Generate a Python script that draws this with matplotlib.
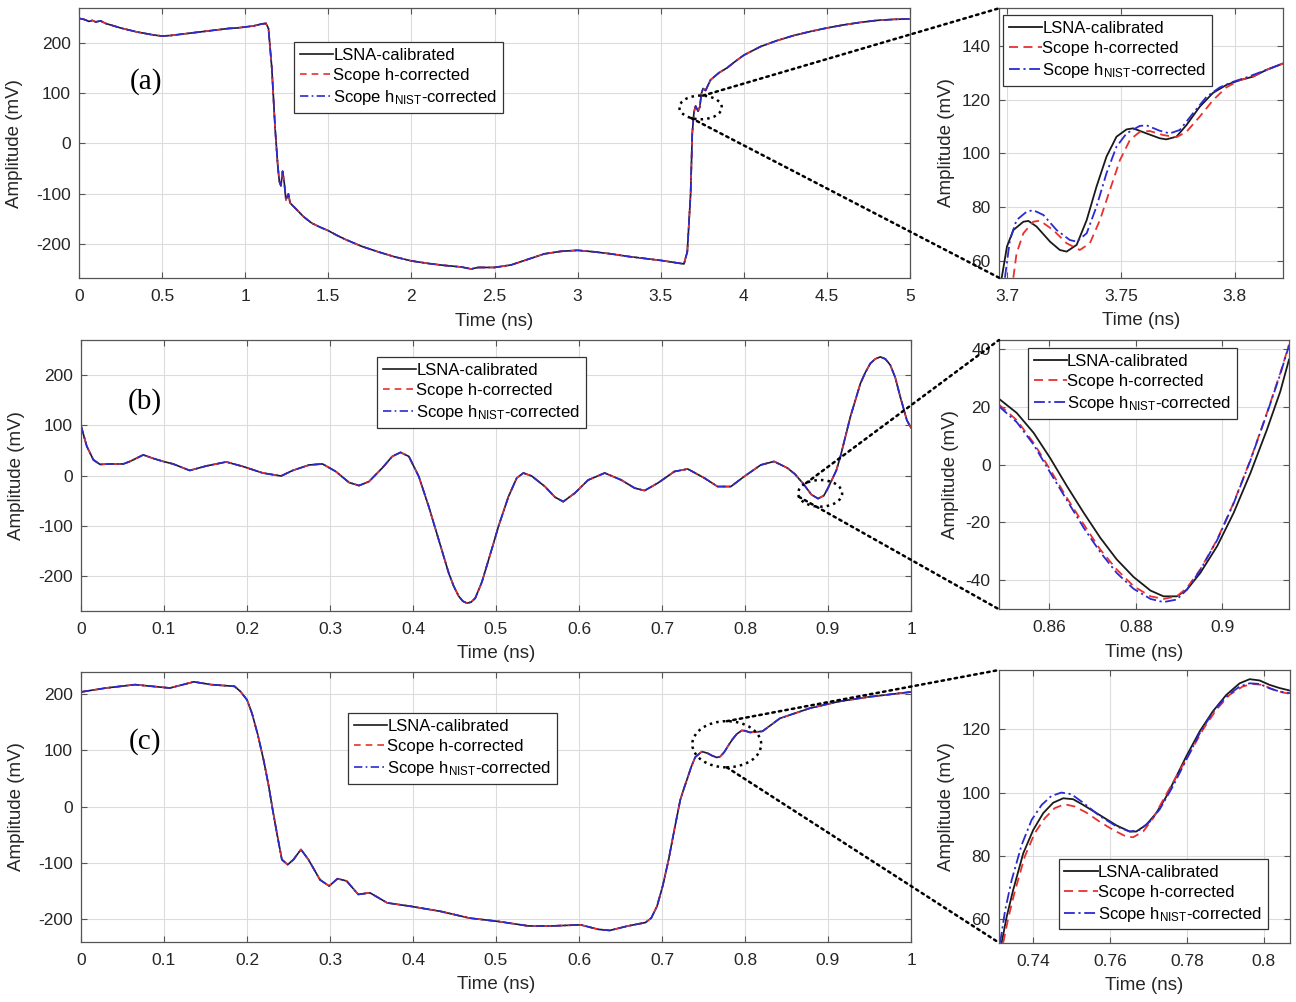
import numpy as np
import matplotlib
matplotlib.use("Agg")
import matplotlib.pyplot as plt
from matplotlib.patches import Ellipse, ConnectionPatch
from matplotlib.ticker import FormatStrFormatter

plt.rcParams['font.family'] = ['Liberation Sans', 'DejaVu Sans']
plt.rcParams['mathtext.default'] = 'regular'
plt.rcParams['axes.unicode_minus'] = False

# ---- panel (a): full waveform (the three curves overlap at this scale)
t_a = [0, 0.03, 0.06, 0.08, 0.1, 0.13, 0.16, 0.2, 0.25, 0.3, 0.35, 0.4, 0.45, 0.5,
       0.55, 0.6, 0.65, 0.7, 0.75, 0.8, 0.85, 0.9, 0.95, 1.0, 1.05, 1.1, 1.125, 1.14,
       1.16, 1.18, 1.195, 1.205, 1.215, 1.225, 1.235, 1.245, 1.26, 1.27, 1.3, 1.35,
       1.4, 1.45, 1.5, 1.55, 1.6, 1.7, 1.8, 1.9, 2.0, 2.1, 2.2, 2.3, 2.36, 2.4, 2.5,
       2.6, 2.7, 2.8, 2.9, 3.0, 3.1, 3.2, 3.3, 3.4, 3.5, 3.6, 3.64, 3.66, 3.68, 3.69,
       3.7, 3.71, 3.725, 3.735, 3.745, 3.755, 3.77, 3.8, 3.85, 3.9, 3.95, 4.0, 4.1,
       4.2, 4.3, 4.4, 4.5, 4.6, 4.7, 4.8, 4.9, 5.0]
lsna_a = [248, 246, 242, 244, 241, 243, 238, 234, 229, 225, 221, 218, 215, 213,
          214, 216, 218, 220, 222, 224, 226, 228, 229, 231, 233, 237, 238, 228,
          150, 30, -40, -75, -84, -55, -78, -112, -100, -118, -128, -145,
          -158, -166, -173, -182, -190, -204, -215, -225, -233, -238, -242, -245, -249, -246, -246,
          -241, -230, -219, -214, -212, -215, -219, -224, -228, -232, -237, -239, -215, -100, 20,
          62, 74, 64, 72, 99, 109, 105, 126, 140, 150, 163, 175, 192,
          204, 214, 222, 229, 235, 240, 244, 246, 247]
hcorr_a = list(lsna_a)
nist_a = list(lsna_a)

# ---- panel (b)
t_b = [0, 0.007, 0.015, 0.023, 0.035, 0.051, 0.059, 0.075, 0.087, 0.099, 0.111, 0.131,
       0.151, 0.175, 0.195, 0.219, 0.241, 0.255, 0.275, 0.291, 0.307, 0.323, 0.335, 0.347,
       0.363, 0.375, 0.385, 0.395, 0.407, 0.419, 0.431, 0.443, 0.449, 0.455, 0.46, 0.465,
       0.47, 0.475, 0.483, 0.491, 0.497,
       0.503, 0.515, 0.525, 0.533, 0.543, 0.559, 0.571, 0.581, 0.595, 0.611, 0.631, 0.651,
       0.667, 0.679, 0.695, 0.715, 0.731, 0.751, 0.767, 0.783, 0.799, 0.819, 0.835, 0.851,
       0.86, 0.87, 0.88, 0.888, 0.895, 0.9, 0.91, 0.915, 0.927, 0.939, 0.945, 0.951, 0.957,
       0.963, 0.969, 0.975, 0.981, 0.987, 0.995, 1.0]
lsna_b = [99, 58, 31, 22, 23, 23, 28, 41, 34, 28, 23, 10,
          19, 27, 18, 5, -1, 10, 21, 23, 8, -14, -20, -12,
          15, 38, 46, 38, -2, -62, -128, -194, -220, -240, -250, -254,
          -252, -244, -212, -168, -135,
          -101, -42, -5, 5, -1, -22, -43, -52, -35, -9, 5, -9,
          -25, -30, -15, 8, 13, -5, -22, -22, -2, 21, 28, 15,
          3, -16, -38, -46, -40, -25, 10, 38, 117, 183, 205, 223, 232,
          236, 232, 220, 195, 157, 110, 95]
hcorr_b = list(lsna_b)
nist_b = list(lsna_b)

# ---- panel (c)
t_c = [0, 0.03, 0.065, 0.1, 0.107, 0.136, 0.157, 0.185, 0.192, 0.2, 0.206, 0.213, 0.22,
       0.226, 0.231, 0.237,
       0.242, 0.249, 0.256, 0.265, 0.274, 0.288, 0.299, 0.309, 0.32, 0.334, 0.348, 0.369,
       0.397, 0.433, 0.468, 0.503, 0.539, 0.567, 0.602, 0.623, 0.637, 0.659, 0.68, 0.687,
       0.694, 0.701, 0.708, 0.715, 0.722, 0.727, 0.731, 0.735, 0.74, 0.748, 0.755, 0.76,
       0.766, 0.77, 0.775, 0.78,
       0.785, 0.79, 0.796, 0.8, 0.806, 0.821, 0.842, 0.878, 0.913, 0.948, 1.0]
lsna_c = [204, 211, 217, 212, 211, 222, 217, 214, 205, 190, 166, 128, 83,
          38, -6, -55,
          -94, -103, -94, -76, -94, -130, -141, -128, -132, -156, -153, -171,
          -177, -186, -198, -204, -212, -212, -210, -218, -220, -212, -206, -198,
          -177, -140, -94, -40, 12, 35, 52, 70, 88, 98, 95, 91,
          87.5, 89, 97, 109,
          120, 129, 135.5, 135, 132, 134, 157, 175, 187, 195, 204]
hcorr_c = list(lsna_c)
nist_c = list(lsna_c)

# ---- zoom (a): 3.70 - 3.82 ns
za_t_lsna = [3.6977, 3.7, 3.7028, 3.7072, 3.7094, 3.713, 3.7189, 3.7232, 3.7262, 3.7306,
             3.735, 3.7393, 3.7437, 3.7481, 3.7525, 3.7554, 3.7613, 3.7671, 3.77, 3.7744,
             3.7788, 3.7846, 3.7905, 3.7963, 3.8022, 3.808, 3.8139, 3.8212]
za_v_lsna = [53.8, 65.4, 71.5, 74.6, 74.9, 72.8, 67.2, 64.1, 63.5, 66.0,
             75.2, 87.6, 98.8, 106.2, 108.9, 109.3, 107.4, 105.6, 105.2, 106.2,
             110.5, 117.3, 122.5, 125.4, 127.2, 128.5, 131.0, 133.4]
za_t_h = [3.7028, 3.7042, 3.7072, 3.7115, 3.7145, 3.7203, 3.7262, 3.7320, 3.7364, 3.7408,
          3.7452, 3.7496, 3.754, 3.7583, 3.7627, 3.7686, 3.7744, 3.7788, 3.7846, 3.7905,
          3.7963, 3.8022, 3.808, 3.8139, 3.8212]
za_v_h = [53.8, 62.8, 70.3, 74.6, 75.0, 71.5, 66.6, 64.1, 66.6, 75.2,
          86.4, 97.5, 105.0, 108.0, 108.3, 106.8, 106.0, 108.0, 113.6, 119.8,
          124.5, 127.2, 128.5, 131.0, 133.4]
za_t_nist = [3.6991, 3.7013, 3.7042, 3.7086, 3.7115, 3.716, 3.7218, 3.7276, 3.7306, 3.735,
             3.7393, 3.7437, 3.7481, 3.7525, 3.7583, 3.7613, 3.7671, 3.7715, 3.7759, 3.7817,
             3.7876, 3.7934, 3.7993, 3.8051, 3.8139, 3.8212]
za_v_nist = [53.8, 67.8, 75.2, 78.3, 78.9, 77.1, 71.5, 67.8, 67.2, 70.3,
             80.2, 92.6, 102.5, 107.4, 110.2, 110.4, 108.4, 107.4, 108.7, 114.9,
             121.0, 124.5, 126.6, 128.2, 131.0, 133.4]

# ---- zoom (b): 0.848 - 0.915 ns
zb_t = [0.8484, 0.8525, 0.8564, 0.8602, 0.8641, 0.868, 0.8718, 0.8756, 0.8795, 0.8834,
        0.8864, 0.8895, 0.8918, 0.8949, 0.8988, 0.9026, 0.9065, 0.9103, 0.9134, 0.9154]
zb_lsna = [22.8, 17.9, 11.0, 2.3, -7.5, -16.8, -25.4, -32.9, -39.0, -43.7,
           -45.7, -45.7, -43.4, -37.6, -28.3, -16.8, -2.9, 12.1, 25.4, 36.4]
zb_h = [20.8, 15.4, 7.5, -1.7, -11.6, -20.8, -29.5, -36.4, -42.2, -45.7,
        -46.6, -45.7, -42.8, -36.4, -26.0, -13.3, 1.7, 17.9, 31.8, 41.6]
zb_nist = [20.2, 14.7, 6.9, -2.7, -12.4, -22.0, -30.4, -37.6, -43.1, -46.6,
           -47.7, -46.8, -43.4, -36.6, -26.2, -13.5, 1.5, 17.7, 31.4, 41.3]

# ---- zoom (c): 0.731 - 0.807 ns
zc_t_lsna = [0.7318, 0.7331, 0.7348, 0.7374, 0.74, 0.7426, 0.7452, 0.7478, 0.7504, 0.753,
             0.7573, 0.7617, 0.7651, 0.7668, 0.7694, 0.772, 0.7746, 0.7772, 0.7798, 0.7833,
             0.7867, 0.7902, 0.7937, 0.7963, 0.7989, 0.8015, 0.8041, 0.8068]
zc_v_lsna = [52.6, 60.8, 69.3, 80.8, 88.2, 93.5, 96.8, 98.2, 97.9, 96.1,
             92.9, 89.6, 87.7, 87.7, 89.8, 93.5, 98.7, 105.0, 111.4, 119.3,
             125.6, 130.8, 134.5, 135.8, 135.4, 134.0, 133.0, 132.2]
zc_t_h = [0.7322, 0.7335, 0.7352, 0.7378, 0.7404, 0.743, 0.7456, 0.7482, 0.7508, 0.7538,
          0.7573, 0.7608, 0.7642, 0.766, 0.7686, 0.7712, 0.7738, 0.7772, 0.7807, 0.7841,
          0.7876, 0.791, 0.7945, 0.7971, 0.7997, 0.8023, 0.8049, 0.8068]
zc_v_h = [52.6, 60.3, 68.7, 79.8, 87.2, 91.9, 95.1, 96.3, 95.6, 93.7,
          90.8, 88.2, 86.1, 85.9, 87.7, 91.9, 97.7, 105.0, 112.4, 119.8,
          126.1, 130.8, 133.5, 134.3, 134.0, 132.6, 131.6, 131.2]
zc_t_nist = [0.7314, 0.7327, 0.7344, 0.737, 0.7396, 0.7422, 0.7447, 0.7473, 0.7499, 0.753,
             0.7573, 0.7617, 0.7651, 0.7677, 0.7703, 0.7729, 0.7763, 0.7798, 0.7833, 0.7867,
             0.7902, 0.7937, 0.7963, 0.7989, 0.8015, 0.8041, 0.8068]
zc_v_nist = [52.6, 62.9, 72.4, 83.5, 91.4, 96.1, 98.9, 100.0, 99.5, 96.8,
             92.6, 89.3, 87.7, 88.2, 90.8, 94.7, 101.9, 110.3, 118.7, 125.3,
             130.3, 133.5, 134.5, 134.3, 132.9, 131.9, 131.4]

labels = ['LSNA-calibrated', 'Scope h-corrected', 'Scope h$_{NIST}$-corrected']
panel_tags = ['(a)', '(b)', '(c)']

# circled regions on the left plots: center, width, height, angles of the two lines
circles = [((3.740, 71.4), 0.255, 47, (84, 243)),
           ((0.8905, -35.5), 0.053, 53, (130, 195)),
           ((0.778, 111.0), 0.083, 82, (90, 270))]

BLACK = '#1a1a1a'
RED = '#e8312f'
BLUE = '#2a2ad0'
AXC = '#262626'

fig = plt.figure(figsize=(12.96, 10.02), dpi=100)

W, H = 1296.0, 1002.0
left_rects = [(79, 8.3, 910, 278.3), (81, 340, 911, 610.7), (81, 671.7, 911, 941.7)]
right_rects = [(999, 8.3, 1283, 277.7), (999, 340, 1289, 609.3), (999, 670, 1290, 942.7)]


def rect(r):
    x0, y0, x1, y1 = r
    return [x0 / W, 1 - y1 / H, (x1 - x0) / W, (y1 - y0) / H]


def style(ax):
    ax.grid(True, color='#dcdcdc', lw=0.8)
    ax.set_axisbelow(True)
    for s in ax.spines.values():
        s.set_color('#555555')
        s.set_linewidth(0.9)
    ax.tick_params(direction='in', top=True, right=True, length=4, width=0.8,
                   color='#555555', labelsize=12.5, labelcolor=AXC)
    ax.tick_params(axis='x', pad=8)
    ax.tick_params(axis='y', pad=6)
    ax.xaxis.set_major_formatter(FormatStrFormatter('%g'))
    ax.set_xlabel('Time (ns)', fontsize=13.5, color=AXC, labelpad=6)


def leg(ax, **kw):
    lg = ax.legend(fontsize=12, handlelength=2.0, handletextpad=0.0, labelspacing=0.3,
                   borderpad=0.35, borderaxespad=0, fancybox=False, framealpha=1, **kw)
    lg.get_frame().set_edgecolor('#333333')
    lg.get_frame().set_linewidth(0.9)
    return lg


left_data = [(t_a, lsna_a, hcorr_a, nist_a), (t_b, lsna_b, hcorr_b, nist_b),
             (t_c, lsna_c, hcorr_c, nist_c)]
left_xlim = [(0, 5), (0, 1), (0, 1)]
left_ylim = [(-267.5, 268), (-269, 269.6), (-240, 240)]
left_xticks = [np.arange(0, 5.01, 0.5), np.arange(0, 1.01, 0.1), np.arange(0, 1.01, 0.1)]
left_leg = [(0.259, 0.875), (0.357, 0.937), (0.322, 0.847)]
tag_pos = [(0.081, 0.727), (0.077, 0.772), (0.077, 0.74)]

zoom_data = [((za_t_lsna, za_v_lsna), (za_t_h, za_v_h), (za_t_nist, za_v_nist)),
             ((zb_t, zb_lsna), (zb_t, zb_h), (zb_t, zb_nist)),
             ((zc_t_lsna, zc_v_lsna), (zc_t_h, zc_v_h), (zc_t_nist, zc_v_nist))]
zoom_xlim = [(3.6965, 3.8212), (0.8484, 0.9154), (0.7311, 0.8068)]
zoom_ylim = [(53.8, 153.9), (-50.2, 43.2), (52.6, 138.7)]
zoom_xticks = [[3.7, 3.75, 3.8], [0.86, 0.88, 0.9], [0.74, 0.76, 0.78, 0.8]]
zoom_yticks = [[60, 80, 100, 120, 140], [-40, -20, 0, 20, 40], [60, 80, 100, 120]]
zoom_leg = [dict(loc='upper left', bbox_to_anchor=(0.014, 0.975)),
            dict(loc='upper left', bbox_to_anchor=(0.099, 0.969)),
            dict(loc='lower left', bbox_to_anchor=(0.205, 0.049))]

for i in range(3):
    axl = fig.add_axes(rect(left_rects[i]))
    t, v1, v2, v3 = left_data[i]
    axl.plot(t, v1, color=BLACK, lw=1.2, label=labels[0])
    axl.plot(t, v2, color=RED, lw=1.2, ls=(0, (4, 3)), label=labels[1])
    axl.plot(t, v3, color=BLUE, lw=1.2, ls=(0, (5, 2, 1, 2)), label=labels[2])
    axl.set_xlim(*left_xlim[i])
    axl.set_ylim(*left_ylim[i])
    axl.set_xticks(left_xticks[i])
    axl.set_yticks([-200, -100, 0, 100, 200])
    style(axl)
    axl.set_ylabel('Amplitude (mV)', fontsize=13.5, color=AXC, labelpad=9)
    leg(axl, loc='upper left', bbox_to_anchor=left_leg[i])
    axl.text(tag_pos[i][0], tag_pos[i][1], panel_tags[i], transform=axl.transAxes,
             fontsize=21, family='Liberation Serif', ha='center', va='center')

    axr = fig.add_axes(rect(right_rects[i]))
    (x1, y1), (x2, y2), (x3, y3) = zoom_data[i]
    axr.plot(x1, y1, color=BLACK, lw=1.3, label=labels[0])
    axr.plot(x2, y2, color=RED, lw=1.3, ls=(0, (5, 3)), label=labels[1])
    axr.plot(x3, y3, color=BLUE, lw=1.3, ls=(0, (6, 2, 1.2, 2)), label=labels[2])
    axr.set_xlim(*zoom_xlim[i])
    axr.set_ylim(*zoom_ylim[i])
    axr.set_xticks(zoom_xticks[i])
    axr.set_yticks(zoom_yticks[i])
    style(axr)
    axr.set_ylabel('Amplitude (mV)', fontsize=13.5, color=AXC, labelpad=5)
    leg(axr, **zoom_leg[i])

    (cx, cy), ew, eh, angs = circles[i]
    axl.add_patch(Ellipse((cx, cy), ew, eh, fill=False, ls=':', lw=1.8, color='black', zorder=5))
    for ang, corner in zip(angs, [(0, 1), (0, 0)]):
        th = np.deg2rad(ang)
        p = (cx + ew / 2 * np.cos(th), cy + eh / 2 * np.sin(th))
        con = ConnectionPatch(xyA=p, coordsA=axl.transData, xyB=corner, coordsB=axr.transAxes,
                              ls=':', lw=1.8, color='black', zorder=6)
        fig.add_artist(con)

fig.savefig('out.png', dpi=100)
